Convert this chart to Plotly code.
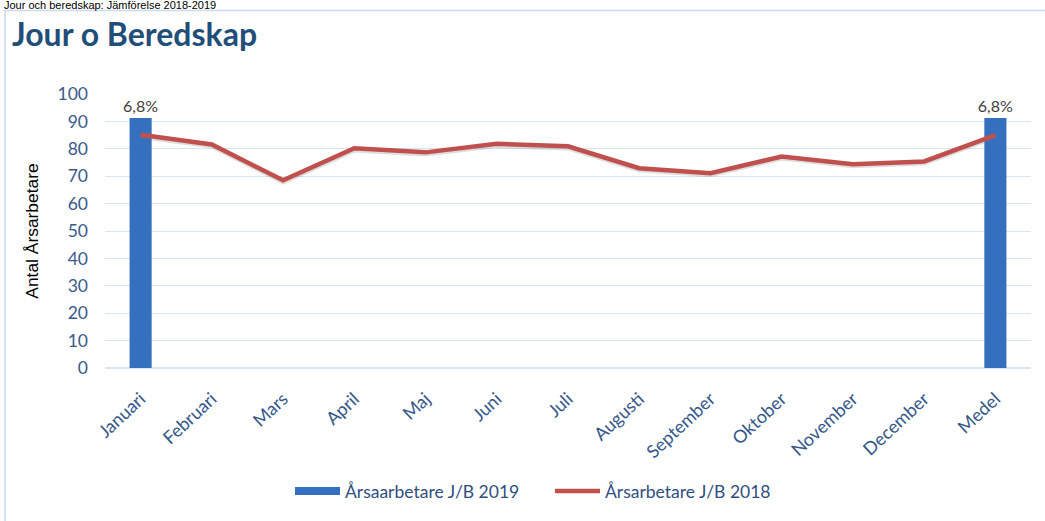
import plotly.graph_objects as go

categories = ["Januari", "Februari", "Mars", "April", "Maj", "Juni", "Juli",
              "Augusti", "September", "Oktober", "November", "December", "Medel"]
bar_2019 = [91.2, None, None, None, None, None, None, None, None, None, None, None, 91.2]
bar_labels = ["6,8%", "", "", "", "", "", "", "", "", "", "", "", "6,8%"]
line_2018 = [85.1, 81.6, 68.5, 80.2, 78.7, 81.8, 80.9, 72.9, 71.1, 77.2, 74.4, 75.4, 85.0]
y_ticks = [0, 10, 20, 30, 40, 50, 60, 70, 80, 90, 100]

W, H = 1045, 521
L, R, T, B = 105, 14, 94, 151
PW, PH = W - L - R, H - T - B

def px(x):
    return (x - L) / PW

def py(y):
    return (H - B - y) / PH

BAR_COLOR = "#3470bd"
LINE_COLOR = "#c0504d"

fig = go.Figure()
fig.add_trace(go.Bar(
    x=categories, y=bar_2019, name="Årsaarbetare J/B 2019", showlegend=False,
    marker=dict(color=BAR_COLOR, line=dict(width=0)),
    width=0.31, text=bar_labels, textposition="outside", constraintext="none",
    textfont=dict(family="Lato, sans-serif", size=16, color="#404040"),
    cliponaxis=False,
))
fig.add_trace(go.Scatter(
    x=categories, y=[v - 0.6 for v in line_2018], mode="lines",
    line=dict(color="rgba(120,120,120,0.25)", width=5), showlegend=False,
    hoverinfo="skip",
))
fig.add_trace(go.Scatter(
    x=categories, y=line_2018, mode="lines", name="Årsarbetare J/B 2018", showlegend=False,
    line=dict(color=LINE_COLOR, width=4.5),
))
# legend entries
fig.add_trace(go.Scatter(
    x=[None], y=[None], mode="lines", name="Årsaarbetare J/B 2019",
    line=dict(color=BAR_COLOR, width=8),
))
fig.add_trace(go.Scatter(
    x=[None], y=[None], mode="lines", name="Årsarbetare J/B 2018",
    line=dict(color=LINE_COLOR, width=4.5),
))

fig.update_layout(
    width=W, height=H,
    margin=dict(l=L, r=R, t=T, b=B),
    paper_bgcolor="white", plot_bgcolor="white",
    font=dict(family="Lato, sans-serif", color="#2f4f7f"),
    title=dict(text="<b>Jour o Beredskap</b>", x=12 / W, y=1 - 35 / H,
               xref="container", yref="container", xanchor="left", yanchor="middle",
               font=dict(family="Lato, sans-serif", size=32, color="#1f4e79")),
    showlegend=True,
    legend=dict(orientation="h", x=px(290), y=py(494), xanchor="left", yanchor="middle",
                font=dict(size=17.5, color="#2f4f7f"), traceorder="normal",
                itemwidth=45, entrywidth=200, entrywidthmode="pixels"),
    xaxis=dict(type="category", tickangle=-43, showgrid=False, showline=False,
               ticks="", tickfont=dict(size=18, color="#35578a"), fixedrange=True,
               ticklabelstandoff=16),
    yaxis=dict(range=[0, 100], tickvals=y_ticks, showgrid=True, gridcolor="#d8e4f2",
               gridwidth=1, zeroline=True, zerolinecolor="#d8e4f2", showline=False,
               tickfont=dict(size=17.5, color="#3a5a8c"), ticks="", ticklen=0,
               ticklabelstandoff=16,
               title=dict(text="Antal Årsarbetare", standoff=14,
                          font=dict(family="Liberation Sans, Arial, sans-serif", size=17.4, color="black"))),
    bargap=0.69,
)

fig.add_annotation(text="Jour och beredskap: Jämförelse 2018-2019", xref="paper", yref="paper",
                   x=px(2), y=py(4), xanchor="left", yanchor="middle", showarrow=False,
                   font=dict(family="Liberation Sans, Arial, sans-serif", size=11, color="black"))

fig.add_shape(type="rect", xref="paper", yref="paper",
              x0=px(5), x1=px(1060), y0=py(560), y1=py(10),
              line=dict(color="#c9dbee", width=1.5), fillcolor="rgba(0,0,0,0)", layer="below")

fig.write_html("out.html", config={"displayModeBar": False},
               post_script="document.body.style.margin='0';document.body.style.overflow='hidden';")
